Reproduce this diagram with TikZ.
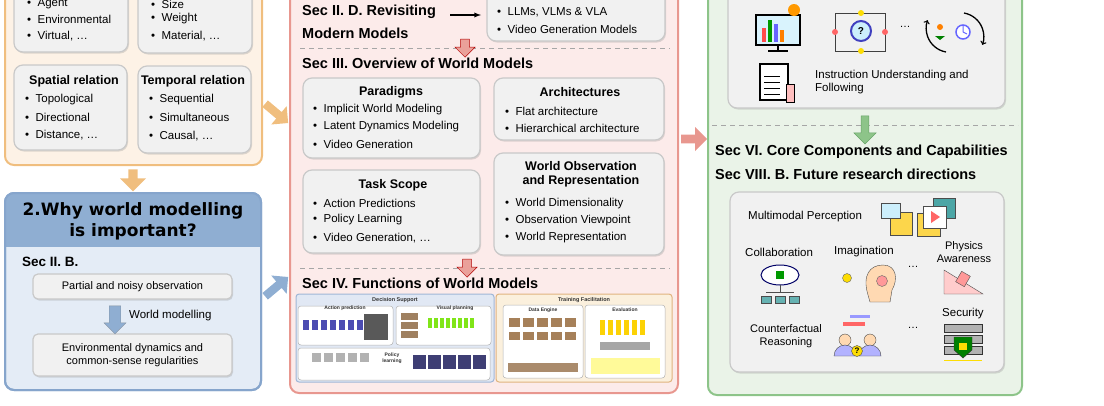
\documentclass[tikz,border=0pt]{standalone}
\usepackage{fontspec}
\setmainfont{Liberation Sans}
\newfontfamily\titlefont{DejaVu Sans}
\usetikzlibrary{shapes.arrows,shapes.geometric,shadows,calc}
\definecolor{orbg}{HTML}{FDF2E6}\definecolor{orln}{HTML}{F0BE7E}
\definecolor{blhd}{HTML}{8FAED2}\definecolor{blbg}{HTML}{E4ECF6}\definecolor{blln}{HTML}{86A5CC}
\definecolor{rdbg}{HTML}{FCEBEA}\definecolor{rdln}{HTML}{E8978F}
\definecolor{grbg}{HTML}{EAF3E8}\definecolor{grln}{HTML}{8DC489}
\definecolor{inbg}{HTML}{F1F1F1}\definecolor{inln}{HTML}{C9C9C9}
\definecolor{dsbg}{HTML}{E1E8F4}\definecolor{dsln}{HTML}{9FB6D6}
\definecolor{tfbg}{HTML}{FBF0DD}\definecolor{tfln}{HTML}{E0B47F}
\tikzset{
 panel/.style={rounded corners=9pt,line width=2pt},
 inbox/.style={rounded corners=9pt,fill=inbg,draw=inln,line width=1.2pt,drop shadow={opacity=0.25,shadow xshift=1pt,shadow yshift=-1.5pt}},
 txt/.style={font=\fontsize{11.5}{13.5}\selectfont,anchor=west,inner sep=0pt},
 hd/.style={font=\fontsize{12.5}{14}\selectfont\bfseries,inner sep=0pt},
 sec/.style={font=\fontsize{14.5}{17}\selectfont\bfseries,anchor=west,inner sep=0pt},
 fat/.style={single arrow,minimum height=24pt,minimum width=22pt,single arrow head extend=4pt,inner sep=2pt},
 dsh/.style={draw=gray!70,dashed,dash pattern=on 5pt off 4pt,line width=1pt},
 tiny/.style={font=\fontsize{5}{6}\selectfont\bfseries,inner sep=0pt,text=black!80},
 mini/.style={fill=white,draw=gray!60,rounded corners=3pt,line width=0.5pt},
}
\begin{document}
\begin{tikzpicture}[x=1pt,y=-1pt]
\useasboundingbox (0,0) rectangle (1104,405);
% ===== left orange panel
\draw[panel,fill=orbg,draw=orln] (5,-20) rectangle (262,165);
\node[inbox,minimum width=114pt,minimum height=72pt] (tl) at (71,16) {};
\node[inbox,minimum width=114pt,minimum height=72pt] (tr) at (195,17) {};
\node[txt] (tl1) at (27,4) {\textbullet\ \ Agent};
\node[txt] (tl2) at (27,19) {\textbullet\ \ Environmental};
\node[txt] (tl3) at (27,36) {\textbullet\ \ Virtual, …};
\node[txt] (tr1) at (151,4) {\textbullet\ \ Size};
\node[txt] (tr2) at (151,19) {\textbullet\ \ Weight};
\node[txt] (tr3) at (151,36) {\textbullet\ \ Material, …};
\node[inbox,minimum width=113pt,minimum height=85pt] (sp) at (70.5,107.5) {};
\node[inbox,minimum width=113pt,minimum height=87pt] (tp) at (194.5,109.5) {};
\node[hd] (sph) at (74,81) {Spatial relation};
\node[hd] (tph) at (193,81) {Temporal relation};
\node[txt] (sp1) at (25,100) {\textbullet\ \ Topological};
\node[txt] (sp2) at (25,117) {\textbullet\ \ Directional};
\node[txt] (sp3) at (25,135) {\textbullet\ \ Distance, …};
\node[txt] (tp1) at (149,100) {\textbullet\ \ Sequential};
\node[txt] (tp2) at (149,117) {\textbullet\ \ Simultaneous};
\node[txt] (tp3) at (149,136) {\textbullet\ \ Causal, …};
\node[fat,fill=orln,shape border rotate=270,minimum height=22pt,minimum width=26pt] (a1) at (133,178) {};
% ===== blue panel
\draw[panel,fill=blbg,draw=blln] (5,193) rectangle (261,390);
\begin{scope}
\clip[rounded corners=9pt] (5,193) rectangle (261,390);
\fill[blhd] (5,193) rectangle (261,247);
\end{scope}
\draw[panel,draw=blln] (5,193) rectangle (261,390);
\node[font=\titlefont\fontsize{17}{21}\selectfont\bfseries,align=center,inner sep=0pt] (why) at (133,221) {2.Why world modelling\\is important?};
\node[sec,font=\fontsize{13.5}{16}\selectfont\bfseries] (s2b) at (22,262) {Sec II. B.};
\node[inbox,minimum width=199pt,minimum height=25pt,rounded corners=5pt,font=\fontsize{11}{13}\selectfont] (pn) at (132.5,286.5) {Partial and noisy observation};
\node[inbox,minimum width=199pt,minimum height=42pt,rounded corners=5pt,font=\fontsize{11}{13}\selectfont,align=center] (ed) at (132.5,355) {Environmental dynamics and\\common-sense regularities};
\node[fat,fill=blhd,draw=gray!60!blhd,shape border rotate=270,minimum height=28pt,minimum width=22pt,single arrow head extend=2pt] (a2) at (115,317) {};
\node[txt] (wm) at (129,316) {World modelling};
% side arrows to middle
\node[fat,fill=orln,rotate=-40,minimum height=30pt,minimum width=24pt] (a3) at (275,112) {};
\node[fat,fill=blhd,rotate=40,minimum height=30pt,minimum width=24pt] (a4) at (275,288) {};
% ===== middle red panel
\draw[panel,fill=rdbg,draw=rdln] (290,-20) rectangle (678,393);
\node[sec] (s2d) at (302,12) {Sec II. D. Revisiting};
\node[sec] (s2d2) at (302,33) {Modern Models};
\node[inbox,minimum width=178pt,minimum height=56pt] (llm) at (576,13) {};
\node[txt] (llm1) at (497,12) {\textbullet\ \ LLMs, VLMs \& VLA};
\node[txt] (llm2) at (497,29) {\textbullet\ \ Video Generation Models};
\coordinate (bk) at (450,15);
\draw[-latex,line width=1.3pt] (bk) -- (481,15);
\draw[dsh] (300,48) -- (670,48);
\node[fat,fill=rdln!90,draw=red!70!black,line width=0.5pt,shape border rotate=270,minimum height=18pt,minimum width=20pt,single arrow head extend=3pt] (a5) at (465,46) {};
\node[sec] (s3) at (302,63) {Sec III. Overview of World Models};
\node[inbox,minimum width=177pt,minimum height=80pt] (par) at (391.5,118) {};
\node[hd] (parh) at (391,92) {Paradigms};
\node[txt] (par1) at (313,110) {\textbullet\ \ Implicit World Modeling};
\node[txt] (par2) at (313,127) {\textbullet\ \ Latent Dynamics Modeling};
\node[txt] (par3) at (313,144) {\textbullet\ \ Video Generation};
\node[inbox,minimum width=170pt,minimum height=62pt] (arc) at (579,109) {};
\node[hd] (arch) at (580,92) {Architectures};
\node[txt] (arc1) at (505,111) {\textbullet\ \ Flat architecture};
\node[txt] (arc2) at (505,128) {\textbullet\ \ Hierarchical architecture};
\node[inbox,minimum width=177pt,minimum height=83pt] (ts) at (391.5,211.5) {};
\node[hd] (tsh) at (393,185) {Task Scope};
\node[txt] (ts1) at (313,203) {\textbullet\ \ Action Predictions};
\node[txt] (ts2) at (313,220) {\textbullet\ \ Policy Learning};
\node[txt] (ts3) at (313,238) {\textbullet\ \ Video Generation, …};
\node[inbox,minimum width=170pt,minimum height=102pt] (wo) at (579,204) {};
\node[hd,align=center] (woh) at (581,174) {World Observation\\and Representation};
\node[txt] (wo1) at (505,204) {\textbullet\ \ World Dimensionality};
\node[txt] (wo2) at (505,221) {\textbullet\ \ Observation Viewpoint};
\node[txt] (wo3) at (505,238) {\textbullet\ \ World Representation};
\draw[dsh] (300,268) -- (670,268);
\node[fat,fill=rdln!90,draw=red!70!black,line width=0.5pt,shape border rotate=270,minimum height=18pt,minimum width=20pt,single arrow head extend=3pt] (a6) at (467,266) {};
\node[sec] (s4) at (302,283) {Sec IV. Functions of World Models};
% Decision support
\node[fill=dsbg,draw=dsln,line width=1pt,rounded corners=3pt,minimum width=198pt,minimum height=88pt] (ds) at (395,338) {};
\node[tiny,font=\fontsize{5.5}{6}\selectfont\bfseries\rmfamily] (dst) at (395,300) {Decision Support};
\node[mini,minimum width=95pt,minimum height=39pt] (ap) at (345.5,325.5) {};
\node[tiny] (apt) at (345,308) {Action prediction};
\node[mini,minimum width=95pt,minimum height=39pt] (vp) at (443.5,325.5) {};
\node[tiny] (vpt) at (455,308) {Visual planning};
\node[mini,minimum width=192pt,minimum height=32pt] (pl) at (394,364) {};
\node[tiny,align=center] (plt) at (392,358) {Policy\\learning};
\foreach \i in {0,...,6}{\fill[blue!40!gray] (303+\i*9,320) rectangle (309+\i*9,330);}
\fill[gray!70!black] (364,314) rectangle (388,340);
\foreach \i in {0,1,2}{\fill[brown!50!gray] (401,313+\i*9) rectangle (418,320+\i*9);}
\foreach \i in {0,...,7}{\fill[green!50!yellow!80!gray] (428+\i*6,318) rectangle (432+\i*6,328);}
\foreach \i in {0,...,4}{\fill[gray!60] (312+\i*12,353) rectangle (321+\i*12,362);}
\foreach \i in {0,...,4}{\fill[blue!30!gray!70!black] (413+\i*15,355) rectangle (426+\i*15,369);}
% Training facilitation
\node[fill=tfbg,draw=tfln,line width=1pt,rounded corners=3pt,minimum width=176pt,minimum height=88pt] (tf) at (584,338) {};
\node[tiny,font=\fontsize{5.5}{6}\selectfont\bfseries\rmfamily] (tft) at (584,300) {Training Facilitation};
\node[mini,minimum width=80pt,minimum height=73pt] (de) at (543,341.5) {};
\node[tiny] (det) at (543,310) {Data Engine};
\node[mini,minimum width=80pt,minimum height=73pt] (ev) at (625,341.5) {};
\node[tiny] (evt) at (625,310) {Evaluation};
\foreach \i in {0,...,4}{\fill[brown!60!gray] (509+\i*14,318) rectangle (520+\i*14,327);}
\foreach \i in {0,...,4}{\fill[brown!60!gray] (509+\i*14,332) rectangle (520+\i*14,340);}
\fill[brown!70!black!70] (508,363) rectangle (578,372);
\foreach \i in {0,...,5}{\fill[yellow!70!orange] (600+\i*8,320) rectangle (605+\i*8,335);}
\fill[gray!70] (600,342) rectangle (650,350);
\fill[yellow!40] (591,358) rectangle (660,374);
% arrow to right
\node[fat,fill=rdln,shape border rotate=0,minimum height=26pt,minimum width=24pt] (a7) at (692,139) {};
% ===== right green panel
\draw[panel,fill=grbg,draw=grln] (708,-20) rectangle (1022,395);
\node[inbox,minimum width=277pt,minimum height=128pt] (top) at (866.5,44) {};
% icons (simplified)
\node[draw=black,line width=1.2pt,fill=cyan!15,minimum width=44pt,minimum height=30pt,inner sep=0pt] (mon) at (778,30) {};
\draw[line width=1.2pt] (778,45) -- (778,51) (768,51) -- (788,51);
\foreach \x/\h/\c in {762/14/red!70,768/22/green!60!black,774/18/blue!60,780/12/orange}{\fill[\c] (\x,42) rectangle (\x+4,42-\h);}
\fill[orange!80!yellow] (794,10) circle (6pt);
\node[circle,draw=gray!50!blue,line width=2pt,fill=cyan!20,minimum size=20pt,font=\bfseries] (gear) at (861,31) {?};
\draw[gray!50!black,line width=1pt] (835,13) rectangle (885,51);
\foreach \p in {(861,13),(861,51)}{\fill[yellow!80!orange] \p circle (3pt);}
\foreach \p in {(835,32),(885,32)}{\fill[red!60] \p circle (3pt);}
\node[font=\fontsize{11}{13}\selectfont] (d1) at (905,27) {…};
\draw[line width=1.3pt,->] (964,13) arc (80:-20:24pt);
\draw[line width=1.3pt,->] (946,52) arc (260:160:24pt);
\node[circle,draw=blue!60,line width=1.5pt,fill=white,minimum size=14pt] (clk) at (963,32) {};
\draw[blue!60,line width=1pt] (963,32) -- (963,26) (963,32) -- (967,34);
\fill[orange] (940,27) circle (3pt); \fill[green!50!black] (935,36) -- (945,36) -- (940,40) -- cycle;
\node[draw=black,line width=1.2pt,fill=white,minimum width=28pt,minimum height=36pt] (doc) at (774,82) {};
\foreach \y in {76,82,88,94}{\draw[line width=0.8pt] (764,\y) -- (780,\y);}
\fill[pink,draw=black,line width=0.8pt] (786,84) rectangle (794,102);
\node[txt,align=left] (iuf) at (815,82) {Instruction Understanding and\\Following};
\draw[dsh] (712,125) -- (1018,125);
\node[fat,fill=grln,draw=green!40!black!60,line width=0.5pt,shape border rotate=270,minimum height=28pt,minimum width=22pt,single arrow head extend=4pt] (a8) at (865,128) {};
\node[sec] (s6) at (715,152) {Sec VI. Core Components and Capabilities};
\node[sec] (s8) at (715,174) {Sec VIII. B. Future research directions};
\node[inbox,minimum width=274pt,minimum height=180pt] (bot) at (867,282) {};
\node[txt] (mmp) at (748,217) {Multimodal Perception};
\fill[yellow!60!orange!70,draw=black!70] (890,212) rectangle (912,235);
\fill[cyan!20,draw=black!70] (881,203) rectangle (900,218);
\fill[teal!70,draw=black!70] (933,198) rectangle (955,218);
\fill[yellow!60!orange!70,draw=black!70] (917,213) rectangle (940,236);
\fill[white,draw=black!70] (923,206) rectangle (946,228);
\fill[red!60] (931,211) -- (931,223) -- (940,217) -- cycle;
\node[txt] (col) at (745,252) {Collaboration};
\node[txt] (ima) at (834,252) {Imagination};
\node[font=\fontsize{11}{13}\selectfont,align=center,inner sep=0pt] (phy) at (964,252) {Physics\\Awareness};
\node[font=\fontsize{11}{13}\selectfont] (d2) at (913,267) {…};
\node[draw=blue!40!black,fill=white,line width=1pt,ellipse,minimum width=38pt,minimum height=20pt] (cloud) at (780,275) {};
\fill[green!60!black] (776,271) rectangle (784,279);
\foreach \x in {766,780,794}{\fill[teal!60,draw=black!70] (\x-5,296) rectangle (\x+5,303);}
\draw[black!70] (780,285) -- (780,292) (766,292) -- (794,292);
\fill[orange!30,draw=black!70] (868,295) .. controls (862,275) and (870,265) .. (883,265) .. controls (897,265) and (898,280) .. (892,290) -- (890,302) -- (870,302) -- cycle;
\node[circle,fill=red!40,draw=black!60,minimum size=11pt,inner sep=0pt] (gear2) at (882,281) {};
\node[circle,fill=yellow!80!orange,draw=black!60,minimum size=9pt,inner sep=0pt] (bulb) at (847,278) {};
\fill[red!20,draw=black!70] (944,294) -- (983,294) -- (944,270) -- cycle;
\fill[red!40,draw=black!70,rotate around={-30:(963,279)}] (958,273) rectangle (968,285);
\node[font=\fontsize{11}{13}\selectfont,align=center,inner sep=0pt] (cfr) at (786,336) {Counterfactual\\Reasoning};
\fill[red!60] (843,322) -- (865,322) -- (865,326) -- (843,326) -- cycle;
\fill[blue!40] (850,315) -- (870,315) -- (870,318) -- (850,318) -- cycle;
\fill[orange!30,draw=black!70] (845,340) circle (6pt); \fill[orange!30,draw=black!70] (870,340) circle (6pt);
\fill[blue!30,draw=black!70] (834,356) arc (180:0:11pt) -- cycle;
\fill[blue!30,draw=black!70] (859,356) arc (180:0:11pt) -- cycle;
\node[circle,fill=yellow!80!orange,draw=black!70,minimum size=11pt,inner sep=0pt,font=\fontsize{8}{8}\selectfont\bfseries] (qm) at (857,351) {?};
\node[font=\fontsize{11}{13}\selectfont] (d3) at (913,328) {…};
\node[txt] (sec) at (942,314) {Security};
\foreach \y in {324,335,346}{\fill[gray!60,draw=black!80] (944,\y) rectangle (982,\y+8);}
\fill[green!50!black,draw=black!80] (954,337) -- (972,337) -- (972,350) -- (963,358) -- (954,350) -- cycle;
\fill[yellow!80!orange] (959,343) rectangle (967,350);
\draw[yellow!80!orange,line width=1pt] (944,360) -- (982,360);
\end{tikzpicture}
\end{document}
